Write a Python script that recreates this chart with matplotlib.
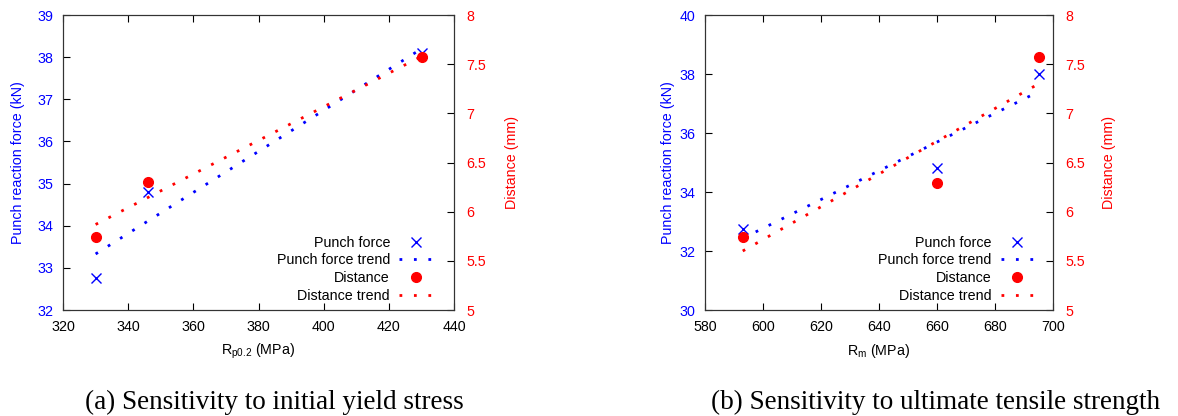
import matplotlib.pyplot as plt
import numpy as np

plt.rcParams['font.family'] = ['Liberation Sans', 'DejaVu Sans']
plt.rcParams['mathtext.fontset'] = 'custom'
plt.rcParams['mathtext.rm'] = 'Liberation Sans'

# panel (a): initial yield stress
rp02 = [330, 346, 430]
force_a = [32.75, 34.8, 38.1]
dist_a = [5.74, 6.30, 7.57]
trend_x_a = [330, 430]
force_trend_a = [33.33, 38.2]
dist_trend_a = [5.87, 7.58]

# panel (b): ultimate tensile strength
rm = [593, 660, 695]
force_b = [32.75, 34.8, 38.0]
dist_b = [5.74, 6.29, 7.57]
trend_x_b = [593, 695]
force_trend_b = [32.43, 37.4]
dist_trend_b = [5.60, 7.30]

BLUE = '#0000ff'
RED = '#ff0000'
DOTS = (0, (1, 4.2))
FS = 10.3


def panel(ax, x, force, dist, tx, ftrend, dtrend, xlim, ylim, xlabel, leg_anchor,
          lpad_left, lpad_right):
    ax2 = ax.twinx()
    h1, = ax.plot(x, force, 'x', color=BLUE, ms=6.5, mew=1.0, label='Punch force')
    h2, = ax.plot(tx, ftrend, color=BLUE, lw=2.0, ls=DOTS, dash_capstyle='butt',
                  label='Punch force trend')
    h3, = ax2.plot(x, dist, 'o', color=RED, ms=7, label='Distance')
    h4, = ax2.plot(tx, dtrend, color=RED, lw=2.0, ls=DOTS, dash_capstyle='butt',
                   label='Distance trend')
    ax.set_xlim(*xlim)
    ax.set_ylim(*ylim)
    ax2.set_ylim(5, 8)
    ax2.set_yticks([5, 5.5, 6, 6.5, 7, 7.5, 8])
    ax2.set_yticklabels(['5', '5.5', '6', '6.5', '7', '7.5', '8'])
    ax.set_xlabel(xlabel, fontsize=FS, labelpad=6)
    ax.set_ylabel('Punch reaction force (kN)', color=BLUE, fontsize=FS,
                  labelpad=lpad_left)
    ax2.set_ylabel('Distance (mm)', color=RED, fontsize=FS, labelpad=lpad_right)
    ax.tick_params(axis='x', direction='in', top=True, labelsize=FS, length=5, pad=7)
    ax.tick_params(axis='y', direction='in', labelcolor=BLUE, color='k',
                   labelsize=FS, length=5, pad=7)
    ax2.tick_params(axis='y', direction='in', labelcolor=RED, labelsize=FS,
                    length=5, pad=9)
    for s in ax.spines.values():
        s.set_color('#333333')
    for s in ax2.spines.values():
        s.set_color('#333333')
    ax2.legend([h1, h2, h3, h4], [h.get_label() for h in (h1, h2, h3, h4)],
               loc='lower right', bbox_to_anchor=leg_anchor, frameon=False,
               markerfirst=False, fontsize=FS, handlelength=2.3, handletextpad=0.65,
               labelspacing=0.25, borderaxespad=0, borderpad=0)


fig = plt.figure(figsize=(11.78, 4.16), dpi=100)
ax_a = fig.add_axes([0.0535, 0.2548, 0.332, 0.709])
ax_b = fig.add_axes([0.5985, 0.2548, 0.2954, 0.709])

panel(ax_a, rp02, force_a, dist_a, trend_x_a, force_trend_a, dist_trend_a,
      (320, 440), (32, 39), r'R$_{\mathrm{p0.2}}$ (MPa)', (0.944, 0.025), 9, 13.5)
ax_a.set_yticks(range(32, 40))
ax_a.set_xticks(range(320, 441, 20))

panel(ax_b, rm, force_b, dist_b, trend_x_b, force_trend_b, dist_trend_b,
      (580, 700), (30, 40), r'R$_{\mathrm{m}}$ (MPa)', (0.945, 0.025), 3, 12)
ax_b.set_yticks(range(30, 41, 2))
ax_b.set_xticks(range(580, 701, 20))

fig.text(0.233, 0.016, '(a) Sensitivity to initial yield stress', ha='center',
         va='baseline', family='Liberation Serif', fontsize=19.5)
fig.text(0.7946, 0.016, '(b) Sensitivity to ultimate tensile strength', ha='center',
         va='baseline', family='Liberation Serif', fontsize=19.5)

fig.savefig('out.png', dpi=100)
